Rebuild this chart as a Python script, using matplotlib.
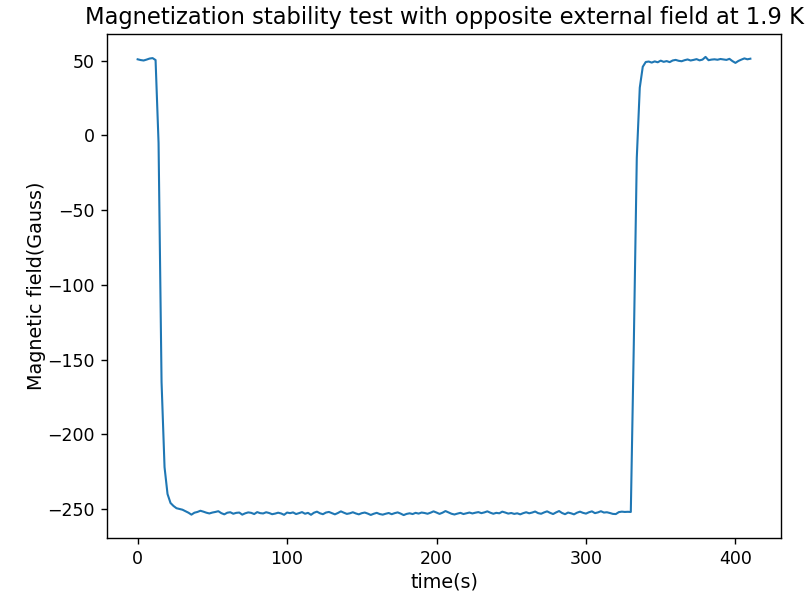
import numpy as np
import matplotlib
matplotlib.use('Agg')
import matplotlib.pyplot as plt

# sample times (s), every 2 s
time_s = np.arange(0, 412, 2)

# field readings (Gauss)
start_plateau = [51, 50.5, 50.2, 50.8, 51.5, 51.8, 50.5]
drop = [-5, -165, -222, -240, -246]
low_plateau = [
    -248, -249.5, -250, -250.5, -251.5, -252.5, -253.8, -252.5, -252, -251.2,
    -251.8, -252.5, -253, -252.4, -252, -251.5, -252.8, -253.6, -252.5, -252.2,
    -253.2, -252.6, -252.4, -253.8, -252.9, -252.3, -252.6, -253.4, -252.1, -252.8,
    -253, -252.2, -252.7, -253.5, -253.1, -252.5, -253, -253.9, -252.4, -252.8,
    -252.3, -253.4, -252.8, -252.1, -253.2, -252.6, -253.9, -252.5, -251.8, -252.9,
    -253.5, -252.4, -252, -252.8, -253.6, -252.7, -251.6, -252.5, -253.3, -252.9,
    -252.2, -253, -253.6, -252.8, -252.4, -253.1, -254, -253.2, -252.6, -253.4,
    -253.8, -253.2, -252.7, -253.5, -252.8, -252.3, -253.1, -254.1, -253.3, -252.9,
    -253.4, -252.6, -253.1, -252.4, -252.7, -253.2, -252.5, -251.6, -252.4, -253.3,
    -252.5, -251.4, -252.3, -253.2, -253.7, -253.1, -252.6, -253.4, -252.9, -252.4,
    -253, -252.5, -252.1, -252.8, -252.3, -251.6, -252.5, -253.2, -252.6, -252.9,
    -251.8, -252.4, -253.1, -252.7, -253.3, -252.9, -253.6, -252.8, -252.2, -252.9,
    -252.4, -251.7, -252.8, -253.2, -252.3, -251.6, -252.6, -253.4, -252.3, -251.4,
    -252.7, -253.5, -252.4, -252.9, -253.6, -252.5, -251.8, -252.6, -253.1, -252.2,
    -251.6, -252.8, -252.3, -251.5, -252.4, -252.2, -252.7, -253.3, -253.4, -252.1,
    -251.8, -252, -251.9, -252,
]
rise = [-140, -15, 32, 46]
end_plateau = [
    49.2, 49.5, 48.8, 49.6, 49.0, 50.1, 49.3, 49.8, 49.1, 50.2,
    50.6, 50.0, 49.7, 50.4, 50.9, 50.2, 50.6, 51.1, 50.3, 50.8,
    52.6, 50.4, 50.8, 51.0, 50.7, 51.2, 50.9, 50.6, 51.3, 49.8,
    48.6, 49.9, 50.8, 51.6, 51.0, 51.4,
]
field_G = np.array(start_plateau + drop + low_plateau + rise + end_plateau)

dpi = 125
fig = plt.figure(figsize=(812/dpi, 603/dpi), dpi=dpi)
ax = fig.add_axes([107/812, 65/603, 674/812, 504/603])

ax.plot(time_s, field_G, linewidth=1.2)

ax.set_title('Magnetization stability test with opposite external field at 1.9 K', fontsize=13)
ax.set_xlabel('time(s)', fontsize=11, labelpad=2.5)
ax.set_ylabel('Magnetic field(Gauss)', fontsize=11, labelpad=1)

plt.savefig('out.png', dpi=dpi)
